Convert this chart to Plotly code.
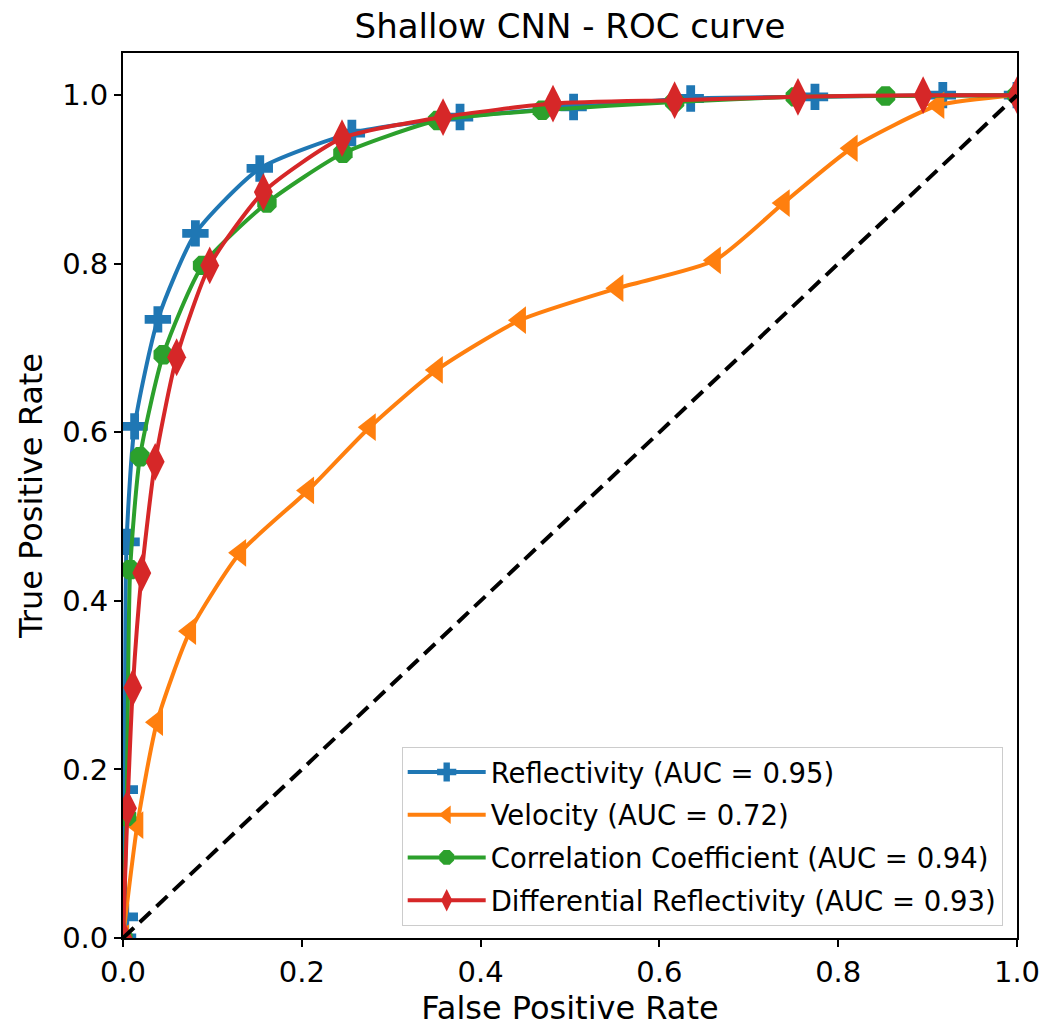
import plotly.graph_objects as go

# ROC points (false positive rate, true positive rate) for each input field
refl_fpr = [0.0, 0.002, 0.002, 0.004, 0.013, 0.039, 0.081, 0.153, 0.256, 0.377, 0.504, 0.635, 0.774, 0.917, 1.0]
refl_tpr = [0.0, 0.025, 0.176, 0.470, 0.607, 0.734, 0.836, 0.913, 0.955, 0.974, 0.986, 0.996, 0.998, 1.0, 1.0]

vel_fpr = [0.0, 0.016, 0.038, 0.075, 0.131, 0.207, 0.276, 0.351, 0.444, 0.553, 0.662, 0.739, 0.815, 0.912, 1.0]
vel_tpr = [0.0, 0.134, 0.256, 0.364, 0.457, 0.531, 0.606, 0.674, 0.733, 0.771, 0.804, 0.872, 0.937, 0.988, 1.0]

cc_fpr = [0.0, 0.004, 0.008, 0.019, 0.045, 0.089, 0.161, 0.246, 0.352, 0.469, 0.617, 0.752, 0.853, 1.0]
cc_tpr = [0.0, 0.144, 0.437, 0.571, 0.692, 0.798, 0.872, 0.931, 0.970, 0.982, 0.992, 0.998, 0.999, 1.0]

zdr_fpr = [0.0, 0.005, 0.011, 0.021, 0.036, 0.060, 0.097, 0.157, 0.245, 0.358, 0.481, 0.617, 0.755, 0.895, 1.0]
zdr_tpr = [0.0, 0.154, 0.297, 0.433, 0.565, 0.689, 0.798, 0.885, 0.949, 0.974, 0.990, 0.994, 0.998, 1.0, 1.0]

series_names = [
    "Reflectivity (AUC = 0.95)",
    "Velocity (AUC = 0.72)",
    "Correlation Coefficient (AUC = 0.94)",
    "Differential Reflectivity (AUC = 0.93)",
]

x_ticks = [0.0, 0.2, 0.4, 0.6, 0.8, 1.0]
y_ticks = [0.0, 0.2, 0.4, 0.6, 0.8, 1.0]

FONT = "DejaVu Sans, Liberation Sans, sans-serif"

styles = [
    ("#1f77b4", "cross", 22),
    ("#ff7f0e", "triangle-left", 24),
    ("#2ca02c", "octagon", 21),
    ("#d62728", "diamond-tall", 27),
]

fig = go.Figure()
for i, ((xs, ys), name, (color, symbol, size)) in enumerate(zip(
    [(refl_fpr, refl_tpr), (vel_fpr, vel_tpr), (cc_fpr, cc_tpr), (zdr_fpr, zdr_tpr)],
    series_names,
    styles,
)):
    fig.add_trace(go.Scatter(
        x=xs, y=ys, name=name, mode="lines+markers", legendgroup=f"g{i}",
        line=dict(color=color, width=4, shape="spline", smoothing=0.6),
        marker=dict(symbol=symbol, size=size, color=color, line=dict(width=0)),
    ))

# chance diagonal
fig.add_trace(go.Scatter(
    x=[0, 1], y=[0, 1], mode="lines", showlegend=False,
    line=dict(color="black", width=4, dash="15px,8px"),
))

axis_common = dict(
    showline=True, linecolor="black", linewidth=1.8, mirror=True,
    ticks="outside", ticklen=7, tickwidth=1.8, tickcolor="black",
    showgrid=False, zeroline=False, tickformat=".1f", automargin=False,
    tickfont=dict(family=FONT, size=29, color="black"),
)

fig.update_layout(
    width=1045, height=1027,
    margin=dict(l=123, r=28, t=53, b=89),
    paper_bgcolor="white", plot_bgcolor="white",
    title=dict(text="Shallow CNN - ROC curve", x=0.5455, xanchor="center",
               y=0.975, yanchor="middle",
               font=dict(family=FONT, size=34, color="black")),
    xaxis=dict(range=[0, 1], tickvals=x_ticks,
               title=dict(text="False Positive Rate", standoff=10,
                          font=dict(family=FONT, size=32, color="black")),
               **axis_common),
    yaxis=dict(range=[0, 1.05], tickvals=y_ticks,
               title=dict(text="True Positive Rate", standoff=10,
                          font=dict(family=FONT, size=32, color="black")),
               **axis_common),
    legend=dict(x=0.984, xanchor="right", y=0.014, yanchor="bottom",
                bgcolor="rgba(255,255,255,0.8)", bordercolor="#cccccc", borderwidth=1,
                font=dict(family=FONT, size=27.5, color="black"),
                tracegroupgap=4, itemwidth=78),
    showlegend=True,
)

fig.write_html("out.html")
